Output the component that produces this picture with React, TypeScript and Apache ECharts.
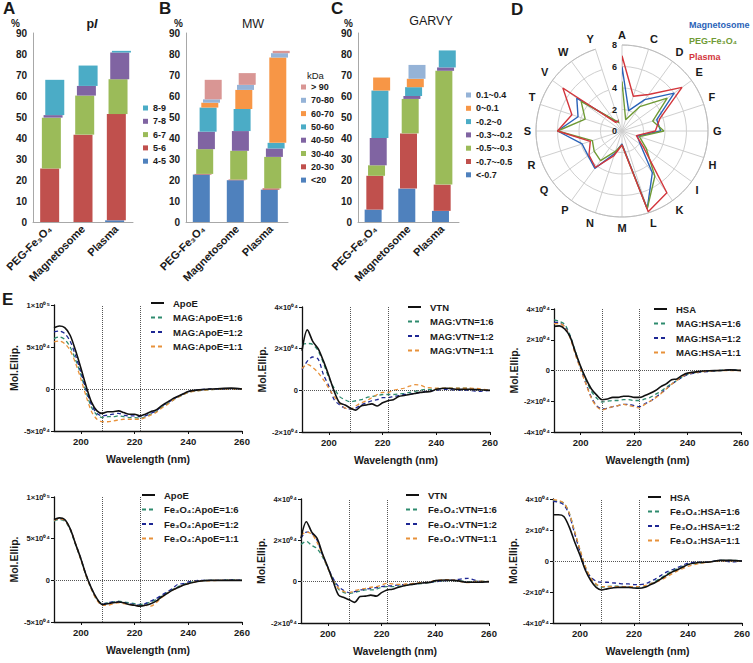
import React, { useEffect, useRef } from 'react';
import * as echarts from 'echarts';

const FONT = "'Liberation Sans', Arial, Helvetica, sans-serif";
const INK = '#1a1a1a';

// ---------- Panels A-C : stacked composition bars ----------
const barCategories = ['PEG-Fe₃O₄', 'Magnetosome', 'Plasma'];

// A: pI (bottom -> top)
const pINames = ['4-5', '5-6', '6-7', '7-8', '8-9'];
const pI_4_5 = [0, 0, 0.8];
const pI_5_6 = [25.5, 41.6, 50.6];
const pI_6_7 = [24.2, 18.6, 16.6];
const pI_7_8 = [1.2, 4.6, 12.7];
const pI_8_9 = [16.8, 9.7, 0.8];
const pIValues = [pI_4_5, pI_5_6, pI_6_7, pI_7_8, pI_8_9];

// B: MW (kDa)
const mwNames = ['<20', '20-30', '30-40', '40-50', '50-60', '60-70', '70-80', '> 90'];
const mw_lt20 = [22.6, 19.9, 15.4];
const mw_20_30 = [0.3, 0.3, 0.6];
const mw_30_40 = [11.8, 13.7, 15.0];
const mw_40_50 = [8.3, 9.4, 4.0];
const mw_50_60 = [11.5, 10.5, 2.7];
const mw_60_70 = [2.3, 9.1, 40.6];
const mw_70_80 = [1.6, 2.4, 2.1];
const mw_gt90 = [9.3, 5.6, 1.1];
const mwValues = [mw_lt20, mw_20_30, mw_30_40, mw_40_50, mw_50_60, mw_60_70, mw_70_80, mw_gt90];

// C: GRAVY
const gvNames = ['<-0.7', '-0.7~-0.5', '-0.5~-0.3', '-0.3~-0.2', '-0.2~0', '0~0.1', '0.1~0.4'];
const gv_a = [5.9, 15.9, 5.3];
const gv_b = [16.1, 26.3, 12.5];
const gv_c = [5.0, 16.4, 54.2];
const gv_d = [13.0, 1.4, 1.6];
const gv_e = [22.6, 4.2, 8.1];
const gv_f = [6.2, 4.0, 0];
const gv_g = [0, 6.6, 0];
const gvValues = [gv_a, gv_b, gv_c, gv_d, gv_e, gv_f, gv_g];

const barTicks = [0, 10, 20, 30, 40, 50, 60, 70, 80, 90];

// ---------- Panel D : amino-acid radar ----------
const aminoAcids = ['A', 'C', 'D', 'E', 'F', 'G', 'H', 'I', 'K', 'L', 'M', 'N', 'P', 'Q', 'R', 'S', 'T', 'V', 'W', 'Y'];
const radarMagnetosome = [6.0, 2.0, 3.6, 6.0, 3.4, 3.6, 1.5, 2.1, 4.8, 7.6, 1.2, 2.2, 4.3, 3.9, 3.9, 6.0, 4.3, 5.2, 1.2, 0.9];
const radarPEG = [4.6, 1.1, 2.8, 5.2, 3.0, 3.9, 1.7, 2.8, 5.2, 7.6, 1.3, 2.0, 3.4, 3.2, 2.9, 6.0, 3.6, 4.7, 1.3, 0.8];
const radarPlasma = [7.0, 3.4, 4.2, 6.9, 3.7, 3.1, 1.4, 2.4, 7.1, 7.9, 1.3, 2.4, 4.2, 3.8, 3.1, 6.0, 4.9, 6.8, 1.0, 1.0];
const radarTicks = [0, 2, 4, 6, 8];

// ---------- Panel E : CD spectra (values in 10^4 units) ----------
const wavelengths = [190, 192, 194, 196, 198, 200, 202, 204, 206, 208, 210, 212, 214, 216, 218, 220, 222, 224, 226, 228, 230, 232, 234, 236, 238, 240, 244, 248, 252, 256, 260];
const wlTicks = [200, 220, 240, 260];

const apoE_a = [7.3, 7.5, 7.3, 6.4, 4.6, 2.5, 0.3, -1.6, -2.6, -2.9, -2.7, -2.7, -2.6, -2.8, -3.0, -3.0, -3.2, -3.0, -2.7, -2.5, -2.0, -1.6, -1.2, -0.9, -0.6, -0.3, -0.1, 0.0, 0.05, 0.1, 0.0];
const magApoE16 = [6.0, 6.2, 5.9, 5.0, 3.5, 1.7, -0.4, -2.2, -3.1, -3.4, -3.3, -3.3, -3.2, -3.3, -3.4, -3.4, -3.5, -3.3, -3.0, -2.7, -2.2, -1.8, -1.4, -1.0, -0.7, -0.4, -0.2, -0.1, 0.0, 0.05, 0.0];
const magApoE12 = [6.8, 6.9, 6.6, 5.7, 4.0, 2.0, -0.1, -1.9, -2.9, -3.2, -3.1, -3.0, -2.9, -3.1, -3.2, -3.2, -3.3, -3.2, -2.9, -2.6, -2.1, -1.7, -1.3, -0.9, -0.6, -0.3, -0.1, 0.0, 0.0, 0.05, 0.0];
const magApoE11 = [5.6, 5.7, 5.4, 4.6, 3.1, 1.2, -0.9, -2.7, -3.6, -3.9, -3.9, -3.8, -3.7, -3.6, -3.6, -3.6, -3.6, -3.4, -3.1, -2.8, -2.3, -1.9, -1.4, -1.0, -0.7, -0.4, -0.2, -0.1, 0.0, 0.0, 0.0];

const vtn_a = [1.9, 2.9, 2.35, 2.0, 1.4, 0.7, -0.05, -0.6, -0.7, -0.85, -0.95, -0.75, -0.7, -0.65, -0.75, -0.6, -0.5, -0.45, -0.3, -0.25, -0.2, -0.15, -0.1, -0.08, -0.05, 0.05, 0.1, 0.05, 0.05, 0.03, 0.0];
const magVtn16 = [2.2, 2.25, 2.2, 1.9, 1.3, 0.6, 0.1, -0.3, -0.45, -0.55, -0.5, -0.45, -0.35, -0.3, -0.25, -0.2, -0.2, -0.2, -0.18, -0.15, -0.1, -0.05, 0.0, 0.05, 0.05, 0.08, 0.1, 0.1, 0.1, 0.05, 0.0];
const magVtn12 = [1.0, 1.4, 1.6, 1.5, 0.75, 0.2, -0.45, -0.7, -0.85, -0.9, -0.85, -0.7, -0.6, -0.5, -0.45, -0.35, -0.35, -0.3, -0.25, -0.2, -0.18, -0.15, -0.1, -0.05, -0.02, 0.0, 0.05, 0.0, 0.0, -0.05, 0.0];
const magVtn11 = [1.05, 1.25, 1.1, 0.85, 0.5, 0.1, -0.3, -0.6, -0.85, -0.9, -0.75, -0.6, -0.5, -0.35, -0.2, -0.1, -0.1, 0.0, 0.05, 0.1, 0.2, 0.27, 0.25, 0.15, 0.12, 0.1, 0.1, 0.1, 0.1, 0.08, 0.0];

const hsa_a = [2.87, 2.9, 2.7, 2.2, 1.2, 0.26, -0.55, -1.2, -1.6, -1.9, -1.85, -1.75, -1.75, -1.67, -1.67, -1.75, -1.75, -1.63, -1.48, -1.3, -1.05, -0.87, -0.6, -0.55, -0.32, -0.17, -0.07, -0.02, 0.0, 0.04, 0.0];
const magHsa16 = [3.3, 3.2, 3.0, 2.3, 1.25, 0.2, -0.65, -1.35, -1.8, -2.05, -2.0, -1.95, -1.95, -1.9, -1.9, -1.95, -1.95, -1.85, -1.75, -1.55, -1.35, -1.1, -0.87, -0.65, -0.43, -0.26, -0.1, -0.04, 0.0, 0.04, 0.0];
const magHsa12 = [3.15, 3.1, 2.87, 2.2, 1.1, 0.1, -0.87, -1.75, -2.3, -2.5, -2.45, -2.35, -2.28, -2.2, -2.2, -2.28, -2.35, -2.17, -2.0, -1.75, -1.48, -1.2, -0.9, -0.65, -0.43, -0.26, -0.13, -0.06, 0.0, 0.04, 0.0];
const magHsa11 = [3.05, 3.05, 2.83, 2.13, 1.04, 0.04, -0.9, -1.8, -2.35, -2.57, -2.45, -2.35, -2.28, -2.2, -2.28, -2.35, -2.43, -2.2, -2.0, -1.78, -1.52, -1.2, -0.9, -0.65, -0.39, -0.22, -0.11, -0.04, 0.0, 0.0, 0.0];

const apoE_b = [7.3, 7.5, 7.3, 6.2, 4.4, 2.6, 0.6, -1.0, -2.2, -2.9, -2.8, -2.7, -2.6, -2.7, -2.9, -3.0, -3.1, -3.0, -2.8, -2.5, -2.0, -1.6, -1.2, -0.9, -0.6, -0.4, -0.1, 0.0, 0.0, 0.0, 0.0];
const feApoE16 = [7.1, 7.3, 7.1, 6.1, 4.3, 2.5, 0.5, -1.1, -2.3, -2.8, -2.7, -2.6, -2.5, -2.6, -2.7, -2.8, -2.9, -2.8, -2.6, -2.3, -1.9, -1.5, -1.1, -0.8, -0.5, -0.3, -0.1, 0.0, 0.0, 0.05, 0.0];
const feApoE12 = [7.2, 7.4, 7.2, 6.2, 4.4, 2.6, 0.6, -1.0, -2.3, -2.9, -2.7, -2.6, -2.6, -2.7, -2.8, -2.9, -3.0, -2.8, -2.5, -2.2, -1.8, -1.4, -1.0, -0.5, -0.4, -0.2, 0.0, 0.0, 0.0, 0.05, 0.0];
const feApoE11 = [7.2, 7.4, 7.2, 6.2, 4.4, 2.5, 0.5, -1.1, -2.4, -3.0, -3.0, -2.8, -2.7, -2.8, -2.9, -3.0, -3.1, -3.0, -3.1, -2.7, -2.1, -1.6, -1.2, -0.9, -0.6, -0.4, -0.1, -0.05, 0.0, 0.0, 0.0];

const vtn_b = [2.1, 2.9, 2.4, 2.1, 1.35, 0.7, 0.0, -0.65, -0.77, -0.88, -1.0, -0.72, -0.7, -0.65, -0.7, -0.53, -0.4, -0.37, -0.28, -0.21, -0.16, -0.12, -0.08, -0.05, -0.04, 0.05, 0.08, 0.05, -0.03, -0.03, 0.0];
const feVtn16 = [1.8, 1.95, 1.75, 1.6, 1.2, 0.65, 0.1, -0.37, -0.53, -0.56, -0.53, -0.45, -0.4, -0.4, -0.37, -0.27, -0.24, -0.24, -0.22, -0.21, -0.16, -0.13, -0.1, -0.08, -0.03, 0.0, 0.05, 0.05, 0.0, 0.03, 0.0];
const feVtn12 = [2.1, 2.4, 2.35, 2.0, 1.3, 0.7, 0.15, -0.24, -0.43, -0.53, -0.48, -0.4, -0.37, -0.32, -0.29, -0.24, -0.21, -0.2, -0.16, -0.14, -0.13, -0.11, -0.08, -0.05, -0.03, 0.0, 0.05, 0.1, 0.16, 0.03, 0.0];
const feVtn11 = [2.25, 2.4, 2.3, 1.9, 1.3, 0.65, 0.05, -0.32, -0.48, -0.53, -0.43, -0.37, -0.32, -0.27, -0.24, -0.16, -0.08, -0.11, -0.13, -0.13, -0.1, -0.08, -0.05, -0.05, 0.0, 0.05, 0.1, 0.05, -0.05, 0.03, 0.0];

const hsa_b = [2.98, 2.98, 2.87, 2.2, 1.24, 0.37, -0.6, -1.26, -1.7, -1.87, -1.8, -1.74, -1.7, -1.7, -1.7, -1.74, -1.76, -1.7, -1.54, -1.37, -1.15, -0.93, -0.72, -0.57, -0.4, -0.22, -0.1, -0.06, 0.04, 0.04, 0.0];
const feHsa16 = [3.9, 3.85, 3.74, 3.1, 1.9, 0.7, -0.4, -1.1, -1.52, -1.7, -1.65, -1.63, -1.63, -1.65, -1.65, -1.7, -1.74, -1.65, -1.48, -1.3, -1.09, -0.87, -0.65, -0.5, -0.35, -0.22, -0.13, -0.06, 0.04, 0.04, 0.0];
const feHsa12 = [3.85, 3.8, 3.63, 2.98, 1.78, 0.6, -0.5, -1.04, -1.3, -1.37, -1.37, -1.41, -1.43, -1.48, -1.48, -1.52, -1.52, -1.48, -1.33, -1.15, -0.93, -0.72, -0.57, -0.43, -0.28, -0.13, -0.07, -0.06, 0.04, -0.06, 0.0];
const feHsa11 = [3.96, 3.9, 3.74, 3.1, 1.9, 0.74, -0.35, -1.1, -1.48, -1.65, -1.65, -1.65, -1.65, -1.65, -1.65, -1.65, -1.65, -1.59, -1.48, -1.37, -1.22, -1.04, -0.83, -0.65, -0.5, -0.35, -0.17, -0.06, 0.0, 0.0, 0.0];

// ---------- styles ----------
const pIColors = ['#4f81bd', '#c0504d', '#9bbb59', '#8064a2', '#4bacc6'];
const mwColors = ['#4f81bd', '#c0504d', '#9bbb59', '#8064a2', '#4bacc6', '#f79646', '#95b3d7', '#d99694'];
const gvColors = ['#4f81bd', '#c0504d', '#9bbb59', '#8064a2', '#4bacc6', '#f79646', '#95b3d7'];
const cdStyles = [
  { color: '#111111', type: 'solid', width: 1.6 },
  { color: '#2e8b6e', type: [4, 3], width: 1.3 },
  { color: '#1d2794', type: [4, 3], width: 1.3 },
  { color: '#e8913a', type: [4, 3], width: 1.3 },
];

function stackSeries(gi: number, names: string[], values: number[][], colors: string[], barW: number) {
  const step = 1.7;
  return names.map((name, lvl) => ({
    type: 'custom',
    name,
    xAxisIndex: gi,
    yAxisIndex: gi,
    itemStyle: { color: colors[lvl] },
    encode: { x: 0, y: [1, 2] },
    data: barCategories.map((_, c) => {
      let start = 0;
      for (let k = 0; k < lvl; k++) start += values[k][c];
      return [c, start, start + values[lvl][c]];
    }),
    renderItem: (params: any, api: any) => {
      const c = api.value(0);
      const s = api.value(1);
      const e = api.value(2);
      if (!(e - s > 0)) return null;
      const p0 = api.coord([c, s]);
      const p1 = api.coord([c, e]);
      return {
        type: 'rect',
        shape: { x: p0[0] - barW / 2 + (lvl - 1) * step, y: p1[1], width: barW, height: p0[1] - p1[1] },
        style: { fill: colors[lvl] },
      };
    },
  }));
}

function cdSeries(gi: number, names: string[], arrays: number[][]) {
  return names.map((name, i) => ({
    type: 'line',
    name,
    xAxisIndex: gi,
    yAxisIndex: gi,
    data: wavelengths.map((w, k) => [w, arrays[i][k]]),
    symbol: 'none',
    showSymbol: false,
    smooth: 0.3,
    z: i === 0 ? 6 : 4,
    lineStyle: { color: cdStyles[i].color, type: cdStyles[i].type, width: cdStyles[i].width },
    itemStyle: { color: cdStyles[i].color },
    markLine: i === 0 ? {
      silent: true,
      symbol: ['none', 'none'],
      label: { show: false },
      lineStyle: { color: '#555', type: 'dotted', width: 1 },
      data: [{ xAxis: 208 }, { xAxis: 222 }, { yAxis: 0 }],
    } : undefined,
  }));
}

const sup: Record<string, string> = { '0': '⁰', '4': '⁴', '5': '⁵' };
function sci(v: number) {
  if (v === 0) return '0';
  if (Math.abs(v) === 10) return (v < 0 ? '-' : '') + '1×10' + sup['0'] + sup['5'];
  return `${v}×10${sup['0']}${sup['4']}`;
}

const barGrids = [
  { left: 33, top: 33, width: 100, height: 189 },
  { left: 186, top: 33, width: 102, height: 189 },
  { left: 358, top: 33, width: 101, height: 189 },
];
const cdGrids = [
  { left: 54, top: 305, width: 188, height: 126 },
  { left: 302, top: 307, width: 188, height: 125 },
  { left: 554, top: 309, width: 187, height: 123 },
  { left: 54, top: 497, width: 188, height: 125 },
  { left: 301, top: 499, width: 188, height: 124 },
  { left: 553, top: 499, width: 189, height: 124 },
];
const cdRanges = [[-5, 10, 5], [-2, 4, 2], [-4, 4, 2], [-5, 10, 5], [-2, 4, 2], [-4, 4, 2]];
const cdLegendPos = [[150, 297], [407, 301], [653, 303], [141, 489], [405, 489], [647, 491]];

const cdPanels = [
  { names: ['ApoE', 'MAG:ApoE=1:6', 'MAG:ApoE=1:2', 'MAG:ApoE=1:1'], arrays: [apoE_a, magApoE16, magApoE12, magApoE11] },
  { names: ['VTN', 'MAG:VTN=1:6', 'MAG:VTN=1:2', 'MAG:VTN=1:1'], arrays: [vtn_a, magVtn16, magVtn12, magVtn11] },
  { names: ['HSA', 'MAG:HSA=1:6', 'MAG:HSA=1:2', 'MAG:HSA=1:1'], arrays: [hsa_a, magHsa16, magHsa12, magHsa11] },
  { names: ['ApoE ', 'Fe₃O₄:ApoE=1:6', 'Fe₃O₄:ApoE=1:2', 'Fe₃O₄:ApoE=1:1'], arrays: [apoE_b, feApoE16, feApoE12, feApoE11] },
  { names: ['VTN ', 'Fe₃O₄:VTN=1:6', 'Fe₃O₄:VTN=1:2', 'Fe₃O₄:VTN=1:1'], arrays: [vtn_b, feVtn16, feVtn12, feVtn11] },
  { names: ['HSA ', 'Fe₃O₄:HSA=1:6', 'Fe₃O₄:HSA=1:2', 'Fe₃O₄:HSA=1:1'], arrays: [hsa_b, feHsa16, feHsa12, feHsa11] },
];

function buildOption() {
  const grid: any[] = [...barGrids, ...cdGrids].map((g) => ({ ...g, containLabel: false, outerBoundsMode: 'none' }));

  const xAxis: any[] = [];
  const yAxis: any[] = [];
  barGrids.forEach((_, i) => {
    xAxis.push({
      type: 'category', gridIndex: i, data: barCategories, boundaryGap: true,
      axisLine: { show: true, lineStyle: { color: '#a8a8a8', width: 1 } },
      axisTick: { show: false },
      axisLabel: { interval: 0, rotate: 45, margin: 5, fontFamily: FONT, fontSize: 11, fontWeight: 'bold', color: INK },
      splitLine: { show: false },
    });
    const pad = [13, 3, 5][i];
    yAxis.push({
      type: 'value', gridIndex: i, min: barTicks[0], max: barTicks[barTicks.length - 1], interval: 10,
      name: '%', nameLocation: 'end', nameGap: 5,
      nameTextStyle: { fontFamily: FONT, fontSize: 10, fontWeight: 'bold', color: INK, align: 'right', padding: [0, pad, 0, 0] },
      axisLine: { show: true, lineStyle: { color: '#a8a8a8', width: 1 } },
      axisTick: { show: false },
      axisLabel: { fontFamily: FONT, fontSize: 10, fontWeight: 'bold', color: INK, margin: 6 },
      splitLine: { show: false },
    });
  });
  cdGrids.forEach((_, j) => {
    const gi = j + 3;
    const [mn, mx, iv] = cdRanges[j];
    xAxis.push({
      type: 'value', gridIndex: gi, min: 190, max: 260,
      name: 'Wavelength (nm)', nameLocation: 'middle', nameGap: 22,
      nameTextStyle: { fontFamily: FONT, fontSize: 10.5, fontWeight: 'bold', color: INK },
      axisLine: { show: true, onZero: false, lineStyle: { color: '#111', width: 1.3 } },
      axisTick: { show: true, length: 3, customValues: wlTicks, lineStyle: { color: '#111' } },
      axisLabel: { customValues: wlTicks, fontFamily: FONT, fontSize: 9.5, fontWeight: 'bold', color: INK, margin: 5 },
      splitLine: { show: false },
    });
    yAxis.push({
      type: 'value', gridIndex: gi, min: mn, max: mx, interval: iv,
      name: 'Mol.Ellip.', nameLocation: 'middle', nameGap: 33,
      nameTextStyle: { fontFamily: FONT, fontSize: 10.5, fontWeight: 'bold', color: INK },
      axisLine: { show: true, onZero: false, lineStyle: { color: '#111', width: 1.3 } },
      axisTick: { show: true, length: 3, lineStyle: { color: '#111' } },
      axisLabel: { formatter: (v: number) => sci(v), fontFamily: FONT, fontSize: 7.5, fontWeight: 'bold', color: INK, margin: 4 },
      splitLine: { show: false },
    });
  });

  const barLegend = (names: string[], left: number, top: number) => ({
    orient: 'vertical', left, top, padding: 0, icon: 'rect', itemWidth: 5, itemHeight: 5, itemGap: 2.3,
    data: [...names].reverse(),
    selectedMode: false,
    textStyle: { fontFamily: FONT, fontSize: 9, fontWeight: 'bold', color: INK, lineHeight: 11 },
  });

  const legend: any[] = [
    barLegend(pINames, 143, 102.5),
    barLegend(mwNames, 301, 81.5),
    barLegend(gvNames, 466, 89.5),
    {
      orient: 'vertical', left: 684, top: 18, padding: 0, icon: 'none', itemWidth: 0, itemHeight: 0, itemGap: 2,
      selectedMode: false,
      data: [
        { name: 'Magnetosome', textStyle: { color: '#2a62b8' } },
        { name: 'PEG-Fe₃O₄', textStyle: { color: '#6f9a35' } },
        { name: 'Plasma', textStyle: { color: '#d3363c' } },
      ],
      textStyle: { fontFamily: FONT, fontSize: 9, fontWeight: 'bold', lineHeight: 14 },
    },
    ...cdPanels.map((p, j) => ({
      orient: 'vertical', left: cdLegendPos[j][0], top: cdLegendPos[j][1], padding: 0,
      itemWidth: 13, itemHeight: 8, itemGap: 2.5, selectedMode: false,
      itemStyle: { color: 'transparent', borderColor: 'transparent', borderWidth: 0, opacity: 0 },
      data: p.names,
      textStyle: { fontFamily: FONT, fontSize: 9.5, fontWeight: 'bold', color: INK, lineHeight: 12, padding: [0, 0, 0, 4] },
    })),
  ];

  const title: any[] = [
    { text: 'A', left: 3, top: 0 },
    { text: 'B', left: 159, top: 0 },
    { text: 'C', left: 331, top: 0 },
    { text: 'D', left: 511, top: 1 },
    { text: 'E', left: 2, top: 291 },
  ].map((t) => ({ ...t, padding: 0, textStyle: { fontFamily: FONT, fontSize: 17, fontWeight: 'bold', color: INK } }));
  title.push(
    { text: '{a|p}{b|I}', left: 92, top: 17, textAlign: 'center', padding: 0,
      textStyle: { rich: { a: { fontFamily: FONT, fontSize: 12.5, fontWeight: 'bold', color: INK }, b: { fontFamily: FONT, fontSize: 12.5, fontWeight: 'bold', fontStyle: 'italic', color: INK } } } },
    { text: 'MW', left: 253, top: 17, textAlign: 'center', padding: 0, textStyle: { fontFamily: FONT, fontSize: 12.5, fontWeight: 'normal', color: INK } },
    { text: 'GARVY', left: 431, top: 14, textAlign: 'center', padding: 0, textStyle: { fontFamily: FONT, fontSize: 12.5, fontWeight: 'normal', color: INK } },
    { text: 'kDa', left: 307, top: 70, padding: 0, textStyle: { fontFamily: FONT, fontSize: 9.5, fontWeight: 'normal', color: INK } },
  );

  const radarLine = (name: string, vals: number[], color: string, z: number) => ({
    type: 'line', name, coordinateSystem: 'polar', polarIndex: 0,
    data: [...aminoAcids.map((a, i) => [vals[i], a]), [vals[0], aminoAcids[0]]],
    symbol: 'none', showSymbol: false, z,
    lineStyle: { color, width: 1.4 }, itemStyle: { color },
  });

  const series: any[] = [
    ...stackSeries(0, pINames, pIValues, pIColors, 19),
    ...stackSeries(1, mwNames, mwValues, mwColors, 17),
    ...stackSeries(2, gvNames, gvValues, gvColors, 17),
    radarLine('Magnetosome', radarMagnetosome, '#2a62b8', 3),
    radarLine('PEG-Fe₃O₄', radarPEG, '#6f9a35', 4),
    radarLine('Plasma', radarPlasma, '#d3363c', 5),
    ...cdPanels.flatMap((p, j) => cdSeries(j + 3, p.names, p.arrays)),
  ];

  return {
    animation: false,
    backgroundColor: '#ffffff',
    textStyle: { fontFamily: FONT },
    title,
    legend,
    grid,
    xAxis,
    yAxis,
    polar: { center: [622, 131], radius: 86 },
    angleAxis: {
      type: 'category', polarIndex: 0, data: aminoAcids, startAngle: 90, clockwise: true, boundaryGap: false,
      axisLine: { show: true, lineStyle: { color: '#bdbdbd', width: 1 } },
      axisTick: { show: false },
      axisLabel: { fontFamily: FONT, fontSize: 11, fontWeight: 'bold', color: INK, margin: 5 },
      splitLine: { show: true, lineStyle: { color: '#cfcfcf', width: 1 } },
    },
    radiusAxis: {
      polarIndex: 0, type: 'value', min: radarTicks[0], max: radarTicks[radarTicks.length - 1], interval: 2,
      axisLine: { show: false }, axisTick: { show: false },
      axisLabel: { fontFamily: FONT, fontSize: 9, fontWeight: 'bold', color: INK, margin: 5 },
      splitLine: { show: true, lineStyle: { color: '#cfcfcf', width: 1 } },
    },
    series,
  };
}

export default function App() {
  const ref = useRef<HTMLDivElement>(null);
  useEffect(() => {
    if (!ref.current) return;
    const chart = echarts.init(ref.current, null, { renderer: 'svg' });
    chart.setOption(buildOption() as any);
    return () => chart.dispose();
  }, []);
  return (
    <div
      ref={ref}
      style={{ position: 'fixed', left: 0, top: 0, width: 753, height: 663, background: '#fff' }}
    />
  );
}
